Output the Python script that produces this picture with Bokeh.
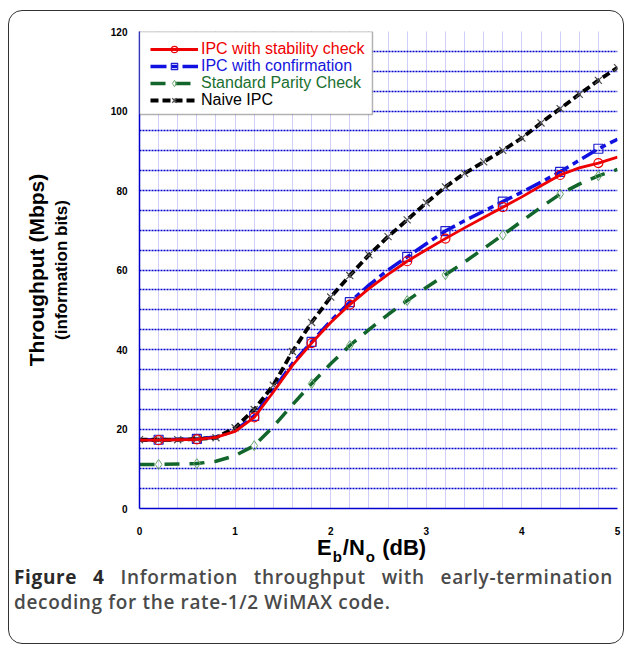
from bokeh.plotting import figure
from bokeh.models import (ColumnDataSource, Legend, LegendItem, BoxAnnotation,
                          SingleIntervalTicker, Div, Title)
from bokeh.layouts import column
from bokeh.embed import file_html
from bokeh.resources import INLINE

# ---------------- data ----------------
ebno_db = [0.0, 0.2, 0.4, 0.6, 0.8, 1.0, 1.2, 1.4, 1.6, 1.8, 2.0, 2.2, 2.4,
           2.6, 2.8, 3.0, 3.2, 3.4, 3.6, 3.8, 4.0, 4.2, 4.4, 4.6, 4.8, 5.0]
ipc_stability = [17.2, 17.2, 17.3, 17.4, 17.9, 19.4, 22.9, 29.3, 36.0, 41.6, 46.8, 51.3, 55.3,
                 58.9, 62.2, 65.1, 67.9, 70.6, 73.2, 75.8, 78.4, 81.2, 83.9, 85.7, 86.9, 88.4]
ipc_confirmation = [17.3, 17.3, 17.4, 17.5, 18.0, 19.6, 23.3, 29.8, 36.5, 41.9, 47.2, 51.9, 56.2,
                    60.0, 63.3, 66.6, 69.8, 72.4, 74.8, 77.2, 79.6, 82.1, 84.7, 87.6, 90.5, 92.9]
standard_parity = [11.1, 11.1, 11.2, 11.3, 11.9, 13.3, 15.8, 20.6, 26.1, 31.4, 36.4, 41.0, 45.0,
                   48.8, 52.3, 55.6, 58.8, 62.0, 65.4, 68.8, 72.3, 75.8, 79.1, 81.6, 83.7, 85.3]
naive_ipc = [17.3, 17.3, 17.3, 17.5, 17.8, 20.3, 24.9, 31.0, 39.5, 46.8, 53.2, 58.6, 63.8,
             68.4, 72.6, 76.9, 80.9, 84.3, 87.2, 90.1, 93.2, 97.0, 100.6, 104.2, 107.7, 110.9]
marker_db = [0.2, 0.6, 1.2, 1.8, 2.2, 2.8, 3.2, 3.8, 4.4, 4.8]
series_labels = ["IPC with stability check", "IPC with confirmation",
                 "Standard Parity Check", "Naive IPC"]
x_ticks = [0, 1, 2, 3, 4, 5]
y_ticks = [0, 20, 40, 60, 80, 100, 120]
y_title = "Throughput (Mbps)"
y_subtitle = "(information bits)"
caption_bold = "Figure 4"
caption_line1 = "Information throughput with early-termination"
caption_line2 = "decoding for the rate-1/2 WiMAX code."

# ---------------- figure ----------------
p = figure(width=614, height=526, x_range=(0, 5), y_range=(0, 120),
           output_backend="svg", toolbar_location=None, margin=0,
           min_border_left=130, min_border_right=6, min_border_top=20, min_border_bottom=28)
p.border_fill_alpha = 0
p.background_fill_color = "white"
p.outline_line_alpha = 0

p.xgrid.ticker = SingleIntervalTicker(interval=0.2, num_minor_ticks=0)
p.xgrid.grid_line_color = "#9c9cf0"
p.xgrid.grid_line_dash = "1 1"
p.xgrid.grid_line_width = 1
p.ygrid.ticker = SingleIntervalTicker(interval=5, num_minor_ticks=0)
p.ygrid.grid_line_color = "#0000cc"
p.ygrid.grid_line_dash = "2 1"
p.ygrid.grid_line_width = 1.4

for ax in (p.xaxis[0], p.yaxis[0]):
    ax.axis_line_color = "#0000cc"
    ax.axis_line_width = 1.5
    ax.major_tick_line_color = None
    ax.minor_tick_line_color = None
    ax.major_tick_out = 0
    ax.major_tick_in = 0
    ax.major_label_text_font = "Liberation Sans"
    ax.major_label_text_font_style = "bold"
    ax.major_label_text_font_size = "10px"
    ax.major_label_text_color = "black"
p.xaxis.ticker = x_ticks
p.yaxis.ticker = y_ticks
p.xaxis.major_label_standoff = 18
p.yaxis.major_label_standoff = 12

p.yaxis.axis_label = y_subtitle
p.yaxis.axis_label_text_font = "Liberation Sans"
p.yaxis.axis_label_text_font_style = "bold"
p.yaxis.axis_label_text_font_size = "17px"
p.yaxis.axis_label_text_color = "black"
p.yaxis.axis_label_standoff = 37

p.add_layout(Title(text=y_title, align="center", text_font="Liberation Sans",
                   text_font_style="bold", text_font_size="21px",
                   text_color="black", standoff=1), "left")

# ---------------- data sources ----------------
src = ColumnDataSource(dict(x=ebno_db, red=ipc_stability, blue=ipc_confirmation,
                            green=standard_parity, black=naive_ipc))
idx = [ebno_db.index(m) for m in marker_db]
msrc = ColumnDataSource(dict(x=marker_db,
                             red=[ipc_stability[i] for i in idx],
                             blue=[ipc_confirmation[i] for i in idx],
                             green=[standard_parity[i] for i in idx]))

# legend box (drawn first so legends sit above)
p.add_layout(BoxAnnotation(left=0, right=2.437, top=120, bottom=99.1,
                           fill_color="white", fill_alpha=1.0,
                           line_color="black", line_width=1.5, level="annotation"))

g_line = p.line("x", "green", source=src, line_color="#13662b", line_width=3.5,
                line_dash="15 10")
g_mk = p.scatter("x", "green", source=msrc, marker="diamond", size=10,
                 fill_color=None, line_color="#6aa86a", line_width=1)
b_line = p.line("x", "blue", source=src, line_color="#1010e0", line_width=3.5,
                line_dash="16 5 6 5")
b_mk = p.scatter("x", "blue", source=msrc, marker="square", size=9,
                 fill_color=None, line_color="#2020d0", line_width=1.2)
k_line = p.line("x", "black", source=src, line_color="black", line_width=3.8,
                line_dash="8 4")
k_mk = p.scatter("x", "black", source=src, marker="x", size=10,
                 line_color="#505050", line_width=1.2)
r_line = p.line("x", "red", source=src, line_color="#ee0000", line_width=2.8)
r_mk = p.scatter("x", "red", source=msrc, marker="circle", size=9,
                 fill_color=None, line_color="#ee0000", line_width=1.2)

legend_specs = [
    (series_labels[0], [r_line, r_mk], "#ee0000"),
    (series_labels[1], [b_line, b_mk], "#1515dd"),
    (series_labels[2], [g_line, g_mk], "#1a7030"),
    (series_labels[3], [k_line, k_mk], "black"),
]
for i, (lab, rends, col) in enumerate(legend_specs):
    lg = Legend(items=[LegendItem(label=lab, renderers=rends)],
                location=(11, 450 - 17 * i),
                border_line_alpha=0, background_fill_alpha=0,
                label_text_color=col, label_text_font="Liberation Sans",
                label_text_font_size="16px", glyph_width=48, glyph_height=16,
                label_height=16, label_standoff=3, padding=0, margin=0, spacing=0)
    p.add_layout(lg)

# ---------------- x-axis title (with subscripts) ----------------
sub = 'style="font-size:15px;line-height:15px;position:relative;top:7px;margin:0 1px"'
xlab = Div(text=f'E<span {sub}>b</span>/N<span {sub}>o</span>&nbsp;(dB)',
           width=614, height=28, margin=0,
           styles={"font-family": "Liberation Sans", "font-size": "22px",
                   "font-weight": "700", "color": "black", "line-height": "22px",
                   "white-space": "nowrap", "padding-left": "308px",
                   "box-sizing": "border-box"})

# ---------------- caption (line 1 justified word by word) ----------------
bold_words = "".join(f'<span style="font-weight:700;color:#2a2a2a">{w}</span>'
                     for w in caption_bold.split())
plain_words = "".join(f'<span>{w}</span>' for w in caption_line1.split())
cap_html = (f'<div style="display:flex;justify-content:space-between;width:599px">'
            f'{bold_words}{plain_words}</div>'
            f'<div style="width:599px"><span>{caption_line2}</span></div>')
cap = Div(text=cap_html, width=614, height=78, margin=0,
          styles={"font-family": "Open Sans", "font-size": "19px", "font-weight": "600",
                  "color": "#4a4a4a", "line-height": "25px", "letter-spacing": "0.65px",
                  "white-space": "nowrap",
                  "padding": "0 10px 0 5px", "box-sizing": "border-box"})

layout = column(p, xlab, cap, spacing=0, margin=(10, 0, 0, 8),
                styles={"border": "1.5px solid #333333", "border-radius": "14px"})

open("out.html", "w").write(file_html(layout, INLINE))
